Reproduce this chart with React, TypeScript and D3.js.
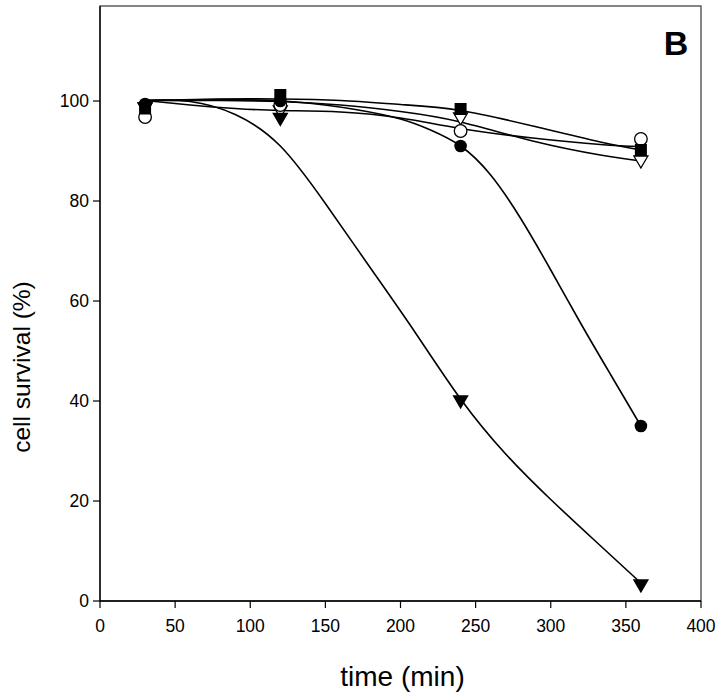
import React from "react";
import * as d3 from "d3";

// measured points
const times = [30, 120, 240, 360];
const filledCircle = [99.4, 100, 91, 35];
const filledTriangle = [98.6, 96.5, 40, 3.2];
const filledSquare = [98.5, 101.2, 98.4, 90.2];
const openCircle = [96.8, 99.2, 94, 92.4];
const openTriangle = [98.6, 98, 96.6, 88];

// fitted curves
const fitSquareT = [30, 80, 120, 160, 200, 240, 288, 333, 360];
const fitSquareV = [100.1, 100.4, 100.4, 100.1, 99.3, 98.1, 95, 91.8, 90.2];
const fitOpenTriT = [30, 80, 120, 160, 200, 240, 288, 333, 360];
const fitOpenTriV = [100.1, 100.1, 99.9, 99.2, 97.9, 95.8, 92, 89.2, 88];
const fitOpenCircT = [30, 60, 90, 120, 160, 200, 240, 288, 333, 360];
const fitOpenCircV = [100.1, 99.2, 98.5, 98.1, 97.8, 96.6, 94.5, 92.6, 91.3, 90.9];
const fitCircT = [30, 80, 130, 170, 200, 220, 240, 260, 280, 300, 320, 340, 360];
const fitCircV = [100.1, 100.3, 99.8, 98.3, 96.4, 94.2, 91, 85.2, 76.5, 66.2, 55.5, 45.2, 35];
const fitTriT = [30, 60, 90, 120, 150, 180, 210, 240, 270, 300, 330, 360];
const fitTriV = [100.1, 99.9, 97.3, 91, 79.5, 66.6, 53.6, 40.4, 29.4, 20.3, 11.9, 3.6];

const xTicks = [0, 50, 100, 150, 200, 250, 300, 350, 400];
const yTicks = [0, 20, 40, 60, 80, 100];

const W = 720, H = 696;
const left = 100, right = 701, top = 6, bottom = 601;

export default function App() {
  const x = d3.scaleLinear().domain([0, 400]).range([left, right]);
  const y = d3.scaleLinear().domain([0, 100]).range([bottom, 101]);
  const line = d3
    .line<[number, number]>()
    .x((d) => x(d[0]))
    .y((d) => y(d[1]))
    .curve(d3.curveNatural);
  const fits: [number[], number[]][] = [
    [fitSquareT, fitSquareV],
    [fitOpenTriT, fitOpenTriV],
    [fitOpenCircT, fitOpenCircV],
    [fitCircT, fitCircV],
    [fitTriT, fitTriV],
  ];
  const font = "'Liberation Sans', Arial, Helvetica, sans-serif";
  const tri = (cx: number, cy: number, fill: string, k: string) => (
    <path
      key={k}
      d={`M${cx - 7},${cy - 5} L${cx + 7},${cy - 5} L${cx},${cy + 7} Z`}
      fill={fill}
      stroke="#000"
      strokeWidth={1.3}
    />
  );
  return (
    <svg width={W} height={H} style={{ position: "absolute", left: 0, top: 0, background: "#fff" }}>
      <rect x={0} y={0} width={W} height={H} fill="#fff" />
      <rect x={left} y={top} width={right - left} height={bottom - top} fill="none" stroke="#444" strokeWidth={1.3} />
      {xTicks.map((t) => (
        <g key={"x" + t}>
          <line x1={x(t)} x2={x(t)} y1={bottom} y2={bottom + 7} stroke="#000" strokeWidth={1.2} />
          <text x={x(t)} y={bottom + 31} textAnchor="middle" fontFamily={font} fontSize={17.5}>
            {t}
          </text>
        </g>
      ))}
      {yTicks.map((t) => (
        <g key={"y" + t}>
          <line x1={left - 7} x2={left} y1={y(t)} y2={y(t)} stroke="#000" strokeWidth={1.2} />
          <text x={left - 11} y={y(t) + 6} textAnchor="end" fontFamily={font} fontSize={17.5}>
            {t}
          </text>
        </g>
      ))}
      <line x1={left} x2={right} y1={bottom} y2={bottom} stroke="#000" strokeWidth={1.3} />
      <line x1={left} x2={left} y1={top} y2={bottom} stroke="#000" strokeWidth={1.3} />
      {fits.map(([ts, vs], i) => (
        <path
          key={"f" + i}
          d={line(ts.map((t, j) => [t, vs[j]] as [number, number])) || ""}
          fill="none"
          stroke="#000"
          strokeWidth={1.6}
        />
      ))}
      {times.map((t, i) => tri(x(t), y(openTriangle[i]), "#fff", "ot" + i))}
      {times.map((t, i) => tri(x(t), y(filledTriangle[i]), "#000", "ft" + i))}
      {times.map((t, i) => (
        <circle key={"oc" + i} cx={x(t)} cy={y(openCircle[i])} r={6.3} fill="#fff" stroke="#000" strokeWidth={1.3} />
      ))}
      {times.map((t, i) => (
        <circle key={"fc" + i} cx={x(t)} cy={y(filledCircle[i])} r={6.3} fill="#000" />
      ))}
      {times.map((t, i) => (
        <rect key={"fs" + i} x={x(t) - 6} y={y(filledSquare[i]) - 6} width={12} height={12} fill="#000" />
      ))}
      <text x={676} y={55} textAnchor="middle" fontFamily={font} fontSize={34} fontWeight="bold">
        B
      </text>
      <text
        transform={`translate(30,367) rotate(-90)`}
        textAnchor="middle"
        fontFamily={font}
        fontSize={24.5}
      >
        cell survival (%)
      </text>
      <text x={(left + right) / 2 + 2} y={686} textAnchor="middle" fontFamily={font} fontSize={28}>
        time (min)
      </text>
    </svg>
  );
}
